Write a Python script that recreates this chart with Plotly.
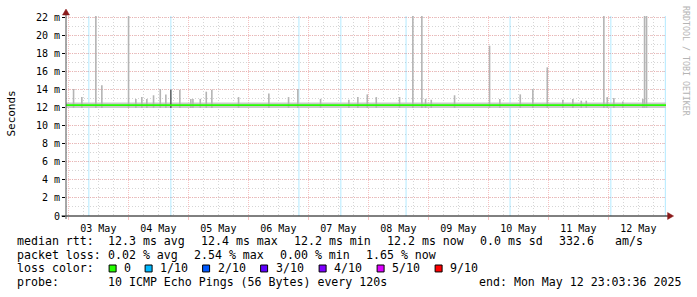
import plotly.graph_objects as go

# ---------------- data ----------------
t_start = "2025-05-02 23:03:36"
t_end = "2025-05-12 23:03:36"

# smoke band (min/max spread of pings) and median rtt, in ms
band_times = [t_start, t_end]
band_low = [12.0, 12.0]
band_high = [12.6, 12.6]
median_times = [t_start, t_end]
median_rtt = [12.3, 12.3]

# individual smoke spikes (max ping in that step), ms
spike_times = [
    "2025-05-03 02:05", "2025-05-03 05:24", "2025-05-03 11:00", "2025-05-03 13:24",
    "2025-05-04 00:05", "2025-05-04 03:00", "2025-05-04 05:24", "2025-05-04 07:24",
    "2025-05-04 10:05", "2025-05-04 12:46", "2025-05-04 15:00", "2025-05-04 20:36",
    "2025-05-05 01:00", "2025-05-05 01:50", "2025-05-05 04:46", "2025-05-05 07:10",
    "2025-05-05 09:24", "2025-05-05 20:05", "2025-05-06 08:12", "2025-05-06 16:05",
    "2025-05-06 19:48", "2025-05-07 04:53", "2025-05-07 16:12", "2025-05-07 19:48",
    "2025-05-07 23:34", "2025-05-08 03:10", "2025-05-08 12:29", "2025-05-08 17:48",
    "2025-05-08 21:24", "2025-05-08 22:53", "2025-05-09 01:10", "2025-05-09 10:29",
    "2025-05-10 00:29", "2025-05-10 04:36", "2025-05-10 12:46", "2025-05-10 17:48",
    "2025-05-10 23:34", "2025-05-11 05:48", "2025-05-11 09:48", "2025-05-11 13:10",
    "2025-05-11 15:10", "2025-05-11 22:12", "2025-05-11 23:34", "2025-05-12 02:12",
    "2025-05-12 05:48", "2025-05-12 13:48", "2025-05-12 14:29", "2025-05-12 15:17",
]
spike_max = [
    14.1, 13.2, 23.0, 14.5,
    23.0, 13.0, 13.2, 13.0,
    13.4, 14.1, 13.5, 14.0,
    13.0, 13.0, 13.0, 13.8,
    14.0, 13.2, 13.6, 13.2,
    14.1, 13.0, 12.9, 13.2,
    13.5, 13.2, 13.2, 23.0,
    23.0, 13.0, 12.9, 13.4,
    18.9, 13.0, 13.5, 14.1,
    16.5, 12.9, 13.0, 12.8,
    12.8, 23.0, 13.2, 13.1,
    12.7, 13.0, 23.0, 23.0,
]
dark_spike_times = ["2025-05-04 17:00"]
dark_spike_max = [14.0]

# steps with 1/10 packet loss (loss background)
loss_times = [
    "2025-05-03 08:12", "2025-05-04 17:00", "2025-05-06 20:14", "2025-05-07 13:00",
    "2025-05-08 15:05", "2025-05-10 08:41", "2025-05-12 01:00", "2025-05-12 22:48",
]

y_ticks = [0, 2, 4, 6, 8, 10, 12, 14, 16, 18, 20, 22]
y_tick_text = ["0", "2 m", "4 m", "6 m", "8 m", "10 m", "12 m", "14 m",
               "16 m", "18 m", "20 m", "22 m"]
y_max = 22.2

legend_rtt = ["median rtt:", "12.3 ms avg", "12.4 ms max", "12.2 ms min",
              "12.2 ms now", "0.0 ms sd", "332.6", "am/s"]
legend_loss = ["packet loss:", "0.02 % avg", "2.54 % max", "0.00 % min", "1.65 % now"]
loss_labels = ["0", "1/10", "2/10", "3/10", "4/10", "5/10", "9/10"]
loss_colors = ["#26ff00", "#00b8ff", "#0059ff", "#5e00ff", "#7e00ff", "#dd00ff", "#ff0000"]
legend_probe = ["probe:", "10 ICMP Echo Pings (56 Bytes) every 120s",
                "end: Mon May 12 23:03:36 2025"]

# ---------------- layout geometry ----------------
W, H = 697, 297
L, R, T, B = 66.4, 30.6, 14, 81
PW, PH = W - L - R, H - T - B


def px(x):
    return (x - L) / PW


def py(y):
    return (H - B - y) / PH


MONO = "DejaVu Sans Mono"

fig = go.Figure()


def segs(times, lo, hi_vals):
    xs, ys = [], []
    for t, h in zip(times, hi_vals):
        xs += [t, t, None]
        ys += [lo, h, None]
    return xs, ys


# loss background lines
lx, ly = segs(loss_times, 0, [y_max] * len(loss_times))
fig.add_trace(go.Scatter(x=lx, y=ly, mode="lines", hoverinfo="skip",
                         line=dict(color="rgba(0,184,255,0.3)", width=1)))

# smoke band
fig.add_trace(go.Scatter(x=band_times, y=band_low, mode="lines",
                         line=dict(width=0, color="#c8c8c8"), hoverinfo="skip"))
fig.add_trace(go.Scatter(x=band_times, y=band_high, mode="lines", fill="tonexty",
                         fillcolor="#cacaca", line=dict(width=0, color="#cacaca"),
                         hoverinfo="skip"))

# spikes
sx, sy = segs(spike_times, band_low[0], spike_max)
fig.add_trace(go.Scatter(x=sx, y=sy, mode="lines", hoverinfo="skip",
                         line=dict(color="#b4b4b4", width=1.6)))
dx, dy = segs(dark_spike_times, band_low[0], dark_spike_max)
fig.add_trace(go.Scatter(x=dx, y=dy, mode="lines", hoverinfo="skip",
                         line=dict(color="#555555", width=1.4)))

# median line
fig.add_trace(go.Scatter(x=median_times, y=median_rtt, mode="lines", hoverinfo="skip",
                         line=dict(color=loss_colors[0], width=1.8)))

major_grid = "rgba(240,150,150,0.6)"
minor_grid = "rgba(200,200,200,0.75)"

fig.update_layout(
    width=W, height=H,
    margin=dict(l=L, r=R, t=T, b=B, pad=0),
    paper_bgcolor="white", plot_bgcolor="white",
    showlegend=False,
    font=dict(family=MONO, size=10, color="#000000"),
    xaxis=dict(
        type="date", range=[t_start, t_end],
        tick0="2025-05-03", dtick=86400000, ticklabelmode="period",
        tickformat="%d %b", tickfont=dict(family=MONO, size=10, color="#000"),
        ticks="outside", ticklen=3, tickcolor=major_grid,
        showgrid=True, gridcolor=major_grid, griddash="1px,1px", gridwidth=1,
        minor=dict(dtick=21600000, tick0="2025-05-03", showgrid=True,
                   gridcolor=minor_grid, griddash="1px,2px", gridwidth=1),
        showline=False, zeroline=False, fixedrange=True,
    ),
    yaxis=dict(
        range=[0, y_max], tickvals=y_ticks, ticktext=y_tick_text,
        tickfont=dict(family=MONO, size=10, color="#000"),
        ticks="outside", ticklen=3, tickcolor="#000",
        showgrid=True, gridcolor=major_grid, griddash="1px,1px", gridwidth=1,
        minor=dict(dtick=1, showgrid=True, gridcolor=minor_grid,
                   griddash="1px,2px", gridwidth=1),
        showline=False, zeroline=False, fixedrange=True,
    ),
)

shapes = []
# axes lines
shapes.append(dict(type="line", xref="paper", yref="paper",
                   x0=px(62), x1=px(671), y0=0, y1=0,
                   line=dict(color="#000000", width=1)))
shapes.append(dict(type="line", xref="paper", yref="paper",
                   x0=0, x1=0, y0=py(219), y1=py(10),
                   line=dict(color="#505050", width=1)))
# arrows
shapes.append(dict(type="path", xref="paper", yref="paper",
                   path=f"M {px(668)} {py(212.5)} L {px(674)} {py(216)} L {px(668)} {py(219.5)} Z",
                   fillcolor="#8b1a1a", line=dict(color="#8b1a1a", width=0.5)))
shapes.append(dict(type="path", xref="paper", yref="paper",
                   path=f"M {px(62.9)} {py(13)} L {px(66.4)} {py(7)} L {px(69.9)} {py(13)} Z",
                   fillcolor="#8b1a1a", line=dict(color="#8b1a1a", width=0.5)))

# loss color boxes
box_x = [109.5, 145.5, 203, 261, 319.5, 377.5, 435.5]
for bx, c in zip(box_x, loss_colors):
    shapes.append(dict(type="rect", xref="paper", yref="paper",
                       x0=px(bx), x1=px(bx + 7), y0=py(272.5), y1=py(265.5),
                       fillcolor=c, line=dict(color="#000000", width=1)))
fig.update_layout(shapes=shapes)

ann = []


def text(s, x, y, size=11.6, color="#000000", angle=0, xanchor="left"):
    ann.append(dict(text=s.replace(" ", "\u00a0"), xref="paper", yref="paper",
                    x=px(x), y=py(y), xanchor=xanchor, yanchor="middle",
                    showarrow=False, textangle=angle, borderpad=0,
                    font=dict(family=MONO, size=size, color=color)))


rtt_x = [16, 107.3, 200.5, 293.3, 386.5, 479.3, 558.3, 614]
for s, x in zip(legend_rtt, rtt_x):
    text(s, x, 241)
loss_x = [16, 107.3, 193.3, 279.3, 365.3]
for s, x in zip(legend_loss, loss_x):
    text(s, x, 255)
text("loss color:", 16, 269)
lab_x = [123.5, 159.5, 217, 275, 333.5, 391.5, 449.5]
for s, x in zip(loss_labels, lab_x):
    text(s, x, 269)
probe_x = [16, 107.3, 478.3]
for s, x in zip(legend_probe, probe_x):
    text(s, x, 283)

text("Seconds", 11, 113, size=11, angle=-90, xanchor="center")
text("RRDTOOL / TOBI OETIKER", 687, 59, size=8.3, color="#b4b4b4", angle=90,
     xanchor="center")

fig.update_layout(annotations=ann)

fig.write_html("out.html")
